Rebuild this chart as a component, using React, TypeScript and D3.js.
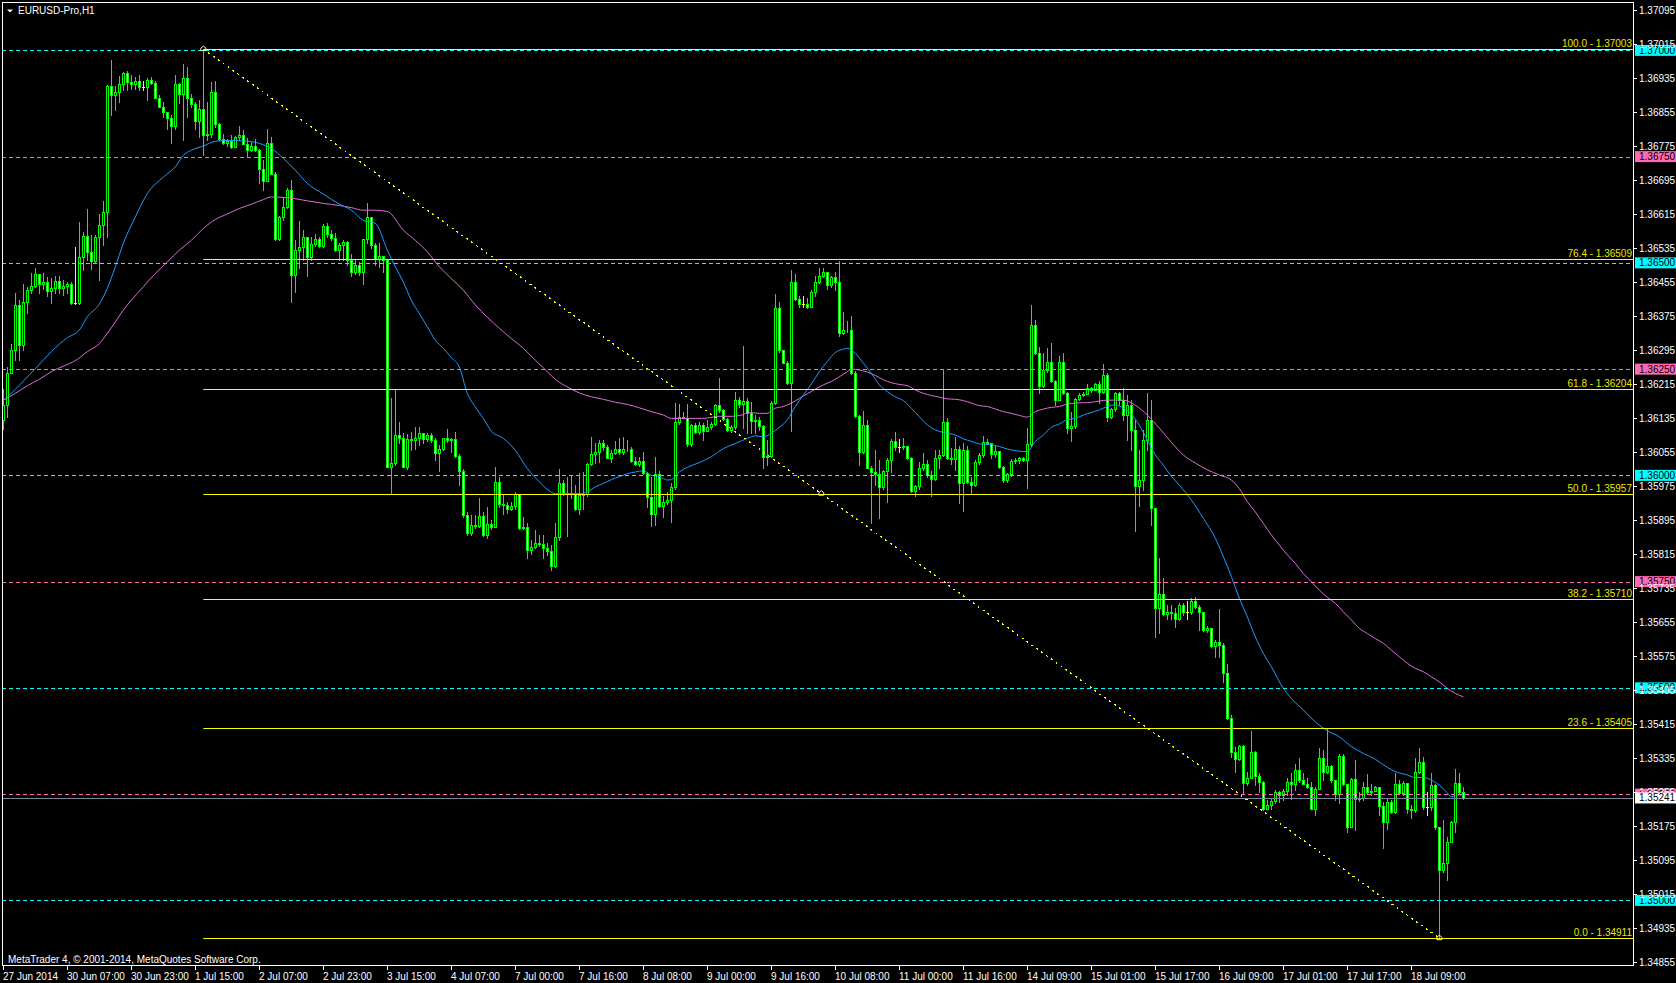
import React from "react";
import * as d3 from "d3";

const symbolTitle = "EURUSD-Pro,H1";
const copyright = "MetaTrader 4, © 2001-2014, MetaQuotes Software Corp.";

const firstOpen = 1.3613;
const closes = [
  1.36165,1.36240,1.36295,1.36402,1.36306,1.36408,1.36437,1.36446,1.36473,1.36451,
  1.36454,1.36434,1.36442,1.36457,1.36442,1.36446,1.36451,1.36406,1.36406,1.36513,
  1.36564,1.36526,1.36505,1.36561,1.36589,1.36620,1.36916,1.36896,1.36902,1.36920,
  1.36946,1.36926,1.36920,1.36929,1.36914,1.36914,1.36931,1.36924,1.36889,1.36867,
  1.36854,1.36842,1.36822,1.36920,1.36898,1.36936,1.36889,1.36873,1.36834,1.36861,
  1.36801,1.36803,1.36901,1.36826,1.36792,1.36781,1.36787,1.36773,1.36796,1.36800,
  1.36780,1.36766,1.36776,1.36765,1.36721,1.36693,1.36782,1.36710,1.36555,1.36607,
  1.36632,1.36671,1.36471,1.36530,1.36538,1.36560,1.36514,1.36544,1.36555,1.36539,
  1.36586,1.36567,1.36559,1.36530,1.36542,1.36548,1.36506,1.36479,1.36494,1.36479,
  1.36555,1.36607,1.36542,1.36510,1.36516,1.36506,1.36020,1.36028,1.36095,1.36089,
  1.36020,1.36085,1.36083,1.36089,1.36099,1.36085,1.36095,1.36083,1.36053,1.36063,
  1.36087,1.36083,1.36085,1.36046,1.36011,1.35906,1.35865,1.35883,1.35881,1.35904,
  1.35859,1.35885,1.35879,1.35985,1.35932,1.35930,1.35922,1.35928,1.35956,1.35877,
  1.35879,1.35824,1.35832,1.35840,1.35838,1.35830,1.35822,1.35786,1.35855,1.35981,
  1.35957,1.35959,1.35957,1.35922,1.35954,1.35956,1.36026,1.36051,1.36054,1.36077,
  1.36067,1.36042,1.36053,1.36063,1.36054,1.36062,1.36063,1.36033,1.36026,1.36034,
  1.36006,1.35948,1.35908,1.36003,1.35928,1.35938,1.35943,1.35973,1.36126,1.36138,
  1.36135,1.36073,1.36118,1.36102,1.36118,1.36104,1.36113,1.36122,1.36165,1.36154,
  1.36132,1.36106,1.36113,1.36177,1.36168,1.36175,1.36146,1.36127,1.36130,1.36115,
  1.36044,1.36046,1.36170,1.36393,1.36294,1.36265,1.36217,1.36454,1.36414,1.36403,
  1.36403,1.36396,1.36431,1.36456,1.36470,1.36478,1.36448,1.36466,1.36454,1.36334,
  1.36341,1.36342,1.36240,1.36140,1.36054,1.36118,1.36018,1.36007,1.36003,1.35972,
  1.36010,1.36036,1.36080,1.36066,1.36066,1.36069,1.36040,1.35964,1.35974,1.36017,
  1.36027,1.36001,1.35991,1.36040,1.36048,1.36125,1.36040,1.36039,1.36062,1.35981,
  1.36060,1.35985,1.35977,1.36032,1.36048,1.36079,1.36077,1.36050,1.36057,1.36019,
  1.35988,1.36003,1.36034,1.36036,1.36040,1.36036,1.36073,1.36354,1.36287,1.36211,
  1.36248,1.36267,1.36221,1.36178,1.36267,1.36193,1.36112,1.36115,1.36179,1.36189,
  1.36192,1.36205,1.36201,1.36215,1.36196,1.36236,1.36138,1.36156,1.36193,1.36177,
  1.36142,1.36165,1.36107,1.35975,1.35989,1.36083,1.36130,1.35923,1.35687,1.35722,
  1.35673,1.35678,1.35677,1.35663,1.35695,1.35678,1.35678,1.35705,1.35691,1.35678,
  1.35636,1.35640,1.35598,1.35609,1.35600,1.35534,1.35428,1.35350,1.35332,1.35364,
  1.35277,1.35289,1.35350,1.35292,1.35279,1.35216,1.35224,1.35234,1.35256,1.35248,
  1.35258,1.35278,1.35275,1.35307,1.35283,1.35275,1.35267,1.35216,1.35263,1.35334,
  1.35303,1.35316,1.35283,1.35250,1.35340,1.35274,1.35173,1.35285,1.35238,1.35240,
  1.35267,1.35254,1.35258,1.35266,1.35222,1.35184,1.35232,1.35207,1.35275,1.35252,
  1.35277,1.35216,1.35212,1.35303,1.35326,1.35220,1.35220,1.35271,1.35173,1.35071,
  1.35087,1.35138,1.35185,1.35277,1.35256,1.35241,
];
const highs = [
  1.36204,1.36255,1.36310,1.36430,1.36412,1.36451,1.36444,1.36475,1.36488,1.36466,
  1.36475,1.36466,1.36464,1.36470,1.36468,1.36460,1.36454,1.36454,1.36538,1.36595,
  1.36573,1.36626,1.36565,1.36565,1.36616,1.36645,1.36918,1.36977,1.36917,1.36939,
  1.36950,1.36952,1.36943,1.36937,1.36942,1.36928,1.36936,1.36938,1.36928,1.36895,
  1.36879,1.36855,1.36848,1.36942,1.36924,1.36969,1.36960,1.36897,1.36879,1.36883,
  1.37003,1.36879,1.36926,1.36928,1.36828,1.36804,1.36792,1.36802,1.36799,1.36822,
  1.36812,1.36794,1.36784,1.36792,1.36769,1.36742,1.36814,1.36797,1.36714,1.36610,
  1.36655,1.36676,1.36695,1.36553,1.36598,1.36577,1.36561,1.36561,1.36569,1.36561,
  1.36591,1.36593,1.36577,1.36571,1.36547,1.36553,1.36552,1.36522,1.36506,1.36502,
  1.36556,1.36642,1.36608,1.36546,1.36546,1.36514,1.36510,1.36181,1.36204,1.36126,
  1.36099,1.36097,1.36102,1.36114,1.36114,1.36095,1.36099,1.36099,1.36087,1.36071,
  1.36089,1.36110,1.36087,1.36102,1.36050,1.36014,1.35914,1.35906,1.35906,1.35946,
  1.35914,1.35926,1.35895,1.36019,1.35997,1.35957,1.35938,1.35938,1.35961,1.35957,
  1.35902,1.35887,1.35848,1.35871,1.35859,1.35859,1.35840,1.35836,1.35887,1.36016,
  1.35989,1.35997,1.36001,1.35977,1.36006,1.36008,1.36028,1.36091,1.36075,1.36084,
  1.36083,1.36071,1.36059,1.36081,1.36087,1.36091,1.36084,1.36066,1.36044,1.36044,
  1.36055,1.36008,1.35997,1.36044,1.36011,1.35951,1.35961,1.35981,1.36171,1.36169,
  1.36150,1.36169,1.36122,1.36124,1.36126,1.36124,1.36130,1.36126,1.36169,1.36228,
  1.36157,1.36136,1.36118,1.36197,1.36185,1.36305,1.36181,1.36172,1.36142,1.36138,
  1.36119,1.36083,1.36174,1.36427,1.36407,1.36295,1.36268,1.36483,1.36473,1.36421,
  1.36422,1.36417,1.36436,1.36468,1.36489,1.36487,1.36479,1.36469,1.36478,1.36505,
  1.36384,1.36363,1.36375,1.36246,1.36142,1.36152,1.36130,1.36021,1.36060,1.36036,
  1.36013,1.36040,1.36086,1.36101,1.36086,1.36087,1.36069,1.36044,1.35978,1.36032,
  1.36052,1.36036,1.36011,1.36060,1.36060,1.36248,1.36134,1.36064,1.36091,1.36068,
  1.36076,1.36068,1.35997,1.36036,1.36052,1.36093,1.36085,1.36064,1.36068,1.36047,
  1.36022,1.36005,1.36038,1.36040,1.36044,1.36043,1.36111,1.36401,1.36366,1.36302,
  1.36287,1.36299,1.36311,1.36225,1.36280,1.36287,1.36197,1.36150,1.36181,1.36193,
  1.36197,1.36215,1.36209,1.36217,1.36221,1.36262,1.36240,1.36158,1.36197,1.36196,
  1.36205,1.36189,1.36177,1.36130,1.36060,1.36107,1.36194,1.36177,1.35922,1.35805,
  1.35758,1.35695,1.35695,1.35689,1.35700,1.35699,1.35705,1.35711,1.35713,1.35695,
  1.35679,1.35646,1.35640,1.35613,1.35685,1.35606,1.35555,1.35436,1.35362,1.35365,
  1.35365,1.35303,1.35399,1.35352,1.35299,1.35281,1.35236,1.35238,1.35260,1.35257,
  1.35263,1.35289,1.35299,1.35321,1.35334,1.35299,1.35289,1.35279,1.35267,1.35359,
  1.35354,1.35405,1.35318,1.35283,1.35344,1.35344,1.35263,1.35287,1.35330,1.35256,
  1.35279,1.35297,1.35275,1.35270,1.35263,1.35232,1.35238,1.35236,1.35299,1.35283,
  1.35281,1.35256,1.35224,1.35334,1.35358,1.35338,1.35256,1.35299,1.35275,1.35173,
  1.35189,1.35148,1.35187,1.35308,1.35299,1.35267,
];
const lows = [
  1.36110,1.36138,1.36240,1.36271,1.36271,1.36295,1.36381,1.36428,1.36444,1.36430,
  1.36438,1.36422,1.36405,1.36430,1.36430,1.36424,1.36430,1.36404,1.36403,1.36404,
  1.36483,1.36506,1.36485,1.36500,1.36459,1.36543,1.36561,1.36848,1.36859,1.36879,
  1.36906,1.36906,1.36908,1.36908,1.36906,1.36906,1.36883,1.36920,1.36887,1.36866,
  1.36844,1.36816,1.36782,1.36814,1.36877,1.36790,1.36844,1.36867,1.36814,1.36797,
  1.36753,1.36789,1.36797,1.36820,1.36790,1.36779,1.36776,1.36771,1.36787,1.36789,
  1.36779,1.36750,1.36763,1.36763,1.36689,1.36671,1.36692,1.36709,1.36553,1.36553,
  1.36600,1.36630,1.36408,1.36432,1.36488,1.36506,1.36469,1.36506,1.36539,1.36538,
  1.36538,1.36561,1.36553,1.36528,1.36506,1.36506,1.36495,1.36469,1.36473,1.36471,
  1.36451,1.36546,1.36534,1.36495,1.36491,1.36479,1.36019,1.35957,1.36024,1.36075,
  1.36019,1.36016,1.36059,1.36063,1.36071,1.36075,1.36081,1.36079,1.36036,1.36011,
  1.36059,1.36079,1.36055,1.36044,1.35977,1.35902,1.35859,1.35859,1.35877,1.35879,
  1.35857,1.35852,1.35875,1.35879,1.35926,1.35910,1.35912,1.35918,1.35922,1.35875,
  1.35873,1.35805,1.35816,1.35828,1.35834,1.35805,1.35812,1.35777,1.35785,1.35849,
  1.35953,1.35857,1.35946,1.35918,1.35910,1.35922,1.35952,1.36024,1.36028,1.36032,
  1.36059,1.36040,1.36032,1.36051,1.36051,1.36051,1.36057,1.36032,1.36024,1.36022,
  1.36004,1.35926,1.35880,1.35883,1.35926,1.35902,1.35932,1.35891,1.35969,1.36122,
  1.36134,1.36069,1.36069,1.36100,1.36097,1.36083,1.36106,1.36108,1.36118,1.36150,
  1.36130,1.36104,1.36102,1.36110,1.36161,1.36111,1.36099,1.36099,1.36099,1.36107,
  1.36018,1.36025,1.36043,1.36168,1.36291,1.36264,1.36215,1.36105,1.36413,1.36397,
  1.36397,1.36393,1.36396,1.36421,1.36452,1.36466,1.36438,1.36444,1.36436,1.36328,
  1.36332,1.36338,1.36239,1.36138,1.36025,1.36052,1.36017,1.35889,1.35977,1.35899,
  1.35967,1.35938,1.36007,1.36060,1.36054,1.36061,1.36039,1.35960,1.35952,1.35967,
  1.36013,1.35997,1.35952,1.35989,1.36018,1.36046,1.36039,1.36027,1.36013,1.35934,
  1.35915,1.35983,1.35956,1.35975,1.36027,1.36044,1.36074,1.36040,1.36043,1.36017,
  1.35985,1.35985,1.35999,1.36030,1.36029,1.36034,1.35970,1.36069,1.36286,1.36193,
  1.36209,1.36244,1.36219,1.36166,1.36179,1.36192,1.36099,1.36082,1.36111,1.36178,
  1.36187,1.36193,1.36196,1.36201,1.36170,1.36193,1.36127,1.36134,1.36152,1.36165,
  1.36130,1.36083,1.36060,1.35869,1.35928,1.35966,1.36060,1.35883,1.35619,1.35628,
  1.35671,1.35661,1.35663,1.35644,1.35660,1.35671,1.35663,1.35675,1.35689,1.35636,
  1.35634,1.35632,1.35597,1.35573,1.35573,1.35514,1.35426,1.35338,1.35303,1.35330,
  1.35252,1.35271,1.35289,1.35271,1.35256,1.35212,1.35214,1.35216,1.35228,1.35232,
  1.35236,1.35248,1.35238,1.35260,1.35279,1.35274,1.35265,1.35214,1.35201,1.35261,
  1.35283,1.35300,1.35279,1.35236,1.35230,1.35271,1.35162,1.35173,1.35166,1.35234,
  1.35236,1.35252,1.35249,1.35260,1.35201,1.35124,1.35169,1.35205,1.35206,1.35250,
  1.35248,1.35205,1.35193,1.35209,1.35299,1.35216,1.35201,1.35213,1.35169,1.34911,
  1.35067,1.35049,1.35140,1.35162,1.35250,1.35238,
];

// moving averages: [bar index, price]
const fastMa: [number, number][] = [
  [0,1.36177],[2,1.36193],[4,1.36212],[8,1.36251],[12,1.36291],[16,1.36324],[19,1.36342],[21,1.36373],
  [24,1.36403],[26,1.36440],[28,1.36491],[30,1.36546],[33,1.36608],[36,1.36663],[40,1.36702],[43,1.36726],
  [45,1.36753],[47,1.36765],[50,1.36775],[53,1.36786],[56,1.36788],[60,1.36787],[64,1.36781],[67,1.36769],
  [70,1.36746],[73,1.36718],[76,1.36687],[80,1.36662],[84,1.36638],[87,1.36624],[90,1.36600],[93,1.36593],
  [96,1.36530],[98,1.36491],[100,1.36455],[102,1.36412],[104,1.36381],[106,1.36350],[108,1.36318],[110,1.36299],
  [112,1.36277],[114,1.36255],[116,1.36193],[118,1.36161],[120,1.36134],[122,1.36104],[125,1.36087],[128,1.36059],
  [131,1.36016],[134,1.35985],[136,1.35967],[138,1.35957],[141,1.35957],[144,1.35957],[146,1.35961],[148,1.35973],
  [150,1.35981],[152,1.35990],[154,1.35997],[156,1.36004],[158,1.36008],[160,1.36011],[162,1.36000],[164,1.35997],
  [166,1.35989],[167,1.35990],[169,1.36008],[171,1.36019],[174,1.36030],[177,1.36044],[180,1.36063],[183,1.36075],
  [186,1.36087],[188,1.36093],[190,1.36091],[192,1.36099],[194,1.36113],[196,1.36131],[198,1.36162],[200,1.36189],
  [202,1.36215],[204,1.36244],[206,1.36268],[208,1.36289],[210,1.36297],[211,1.36299],[213,1.36287],[215,1.36264],
  [217,1.36240],[219,1.36213],[221,1.36197],[223,1.36185],[225,1.36176],[227,1.36158],[229,1.36138],[231,1.36119],
  [233,1.36107],[235,1.36101],[238,1.36095],[240,1.36086],[242,1.36080],[244,1.36074],[247,1.36072],[249,1.36068],
  [251,1.36062],[253,1.36058],[255,1.36056],[256,1.36056],[258,1.36080],[260,1.36095],[262,1.36113],[264,1.36121],
  [266,1.36131],[268,1.36134],[270,1.36142],[272,1.36148],[274,1.36154],[276,1.36162],[278,1.36166],[280,1.36158],
  [282,1.36144],[284,1.36118],[286,1.36083],[288,1.36048],[290,1.36024],[292,1.35998],[294,1.35977],[297,1.35942],
  [300,1.35899],[303,1.35852],[305,1.35809],[307,1.35762],[309,1.35711],[311,1.35667],[313,1.35620],[315,1.35581],
  [317,1.35550],[320,1.35499],[322,1.35475],[325,1.35448],[328,1.35420],[331,1.35399],[334,1.35385],[337,1.35362],
  [340,1.35346],[343,1.35332],[346,1.35313],[348,1.35303],[351,1.35295],[353,1.35289],[355,1.35289],[357,1.35283],
  [359,1.35271],[361,1.35253],[362,1.35244],[364,1.35248],[365,1.35248],
];
const slowMa: [number, number][] = [
  [0,1.36177],[3,1.36193],[6,1.36211],[9,1.36226],[12,1.36244],[15,1.36257],[18,1.36270],[21,1.36291],
  [24,1.36310],[26,1.36334],[28,1.36361],[30,1.36389],[32,1.36412],[35,1.36444],[38,1.36475],[41,1.36502],
  [44,1.36530],[47,1.36553],[50,1.36581],[53,1.36602],[56,1.36615],[59,1.36628],[62,1.36638],[65,1.36649],
  [67,1.36655],[70,1.36654],[73,1.36651],[76,1.36646],[80,1.36640],[84,1.36635],[87,1.36630],[90,1.36624],
  [93,1.36624],[96,1.36621],[100,1.36577],[103,1.36553],[106,1.36526],[109,1.36491],[112,1.36463],[115,1.36436],
  [118,1.36401],[121,1.36372],[124,1.36346],[127,1.36322],[130,1.36299],[133,1.36271],[136,1.36244],[138,1.36226],
  [141,1.36208],[144,1.36194],[147,1.36185],[150,1.36179],[153,1.36172],[156,1.36167],[159,1.36159],[162,1.36150],
  [165,1.36142],[167,1.36134],[170,1.36134],[173,1.36134],[176,1.36135],[179,1.36139],[182,1.36139],[185,1.36143],
  [186,1.36148],[189,1.36146],[191,1.36146],[193,1.36158],[195,1.36162],[197,1.36170],[199,1.36181],[201,1.36192],
  [203,1.36203],[205,1.36213],[207,1.36221],[209,1.36232],[211,1.36244],[212,1.36250],[214,1.36248],[216,1.36243],
  [218,1.36235],[220,1.36225],[222,1.36218],[224,1.36214],[226,1.36211],[228,1.36201],[230,1.36193],[232,1.36188],
  [234,1.36184],[236,1.36180],[238,1.36179],[240,1.36176],[242,1.36170],[244,1.36164],[246,1.36162],[248,1.36156],
  [250,1.36150],[252,1.36146],[254,1.36141],[256,1.36137],[258,1.36150],[260,1.36156],[262,1.36160],[264,1.36162],
  [266,1.36168],[268,1.36170],[270,1.36171],[272,1.36172],[274,1.36175],[276,1.36177],[278,1.36177],[280,1.36177],
  [283,1.36165],[286,1.36142],[289,1.36111],[292,1.36078],[295,1.36048],[298,1.36029],[301,1.36013],[304,1.36001],
  [307,1.35989],[309,1.35969],[311,1.35938],[313,1.35914],[315,1.35887],[317,1.35860],[319,1.35836],[321,1.35813],
  [323,1.35793],[325,1.35769],[327,1.35750],[329,1.35730],[331,1.35713],[333,1.35699],[335,1.35679],[337,1.35660],
  [339,1.35640],[341,1.35628],[343,1.35616],[345,1.35605],[347,1.35589],[349,1.35573],[351,1.35558],[353,1.35546],
  [355,1.35538],[357,1.35526],[359,1.35514],[361,1.35499],[363,1.35487],[365,1.35479],
];

const fibLevels = [
  { label: "100.0", price: 1.37003 },
  { label: "76.4", price: 1.36509 },
  { label: "61.8", price: 1.36204 },
  { label: "50.0", price: 1.35957 },
  { label: "38.2", price: 1.3571 },
  { label: "23.6", price: 1.35405 },
  { label: "0.0", price: 1.34911 },
];
const fibStartBar = 50;
const fibEndBar = 359;
const cyanLevels = [1.37, 1.365, 1.36, 1.355, 1.35];
const pinkLevels = [1.3675, 1.3625, 1.3575, 1.3525];
const currentPrice = 1.35241;

const priceTicks = [
  "1.37095","1.37015","1.36935","1.36855","1.36775","1.36695","1.36615","1.36535","1.36455","1.36375",
  "1.36295","1.36215","1.36135","1.36055","1.35975","1.35895","1.35815","1.35735","1.35655","1.35575",
  "1.35495","1.35415","1.35335","1.35255","1.35175","1.35095","1.35015","1.34935","1.34855",
];
const timeLabels = [
  "27 Jun 2014","30 Jun 07:00","30 Jun 23:00","1 Jul 15:00","2 Jul 07:00","2 Jul 23:00","3 Jul 15:00",
  "4 Jul 07:00","7 Jul 00:00","7 Jul 16:00","8 Jul 08:00","9 Jul 00:00","9 Jul 16:00","10 Jul 08:00",
  "11 Jul 00:00","11 Jul 16:00","14 Jul 09:00","15 Jul 01:00","15 Jul 17:00","16 Jul 09:00","17 Jul 01:00",
  "17 Jul 17:00","18 Jul 09:00",
];

const W = 1676;
const H = 983;
const LEFT = 2;
const TOP = 2;
const RIGHT = 1633;
const BOTTOM = 965;
const FONT = "'Liberation Sans', Arial, sans-serif";
const LIME = "#00FF00";
const CYAN = "#00FFFF";
const PINK = "#FF6EB4";
const YELLOW = "#FFFF00";

export default function App() {
  const y = d3.scaleLinear().domain([1.37095, 1.34855]).range([10, 962]);
  const x = d3.scaleLinear().domain([0, 365]).range([3.33, 1463.33]);
  const col = (i: number) => Math.round(x(i));

  const candles = closes.map((c, i) => {
    const o = i === 0 ? firstOpen : closes[i - 1];
    const hi = Math.max(highs[i], o, c);
    const lo = Math.min(lows[i], o, c);
    const cx = col(i);
    const doji = Math.abs(o - c) < 0.000005;
    if (doji) {
      const yy = Math.round(y(c)) + 0.5;
      return (
        <g key={i}>
          <line x1={cx + 0.5} x2={cx + 0.5} y1={Math.round(y(hi))} y2={Math.round(y(lo)) + 1} stroke={YELLOW} />
          <line x1={cx - 1} x2={cx + 2} y1={yy} y2={yy} stroke={YELLOW} />
        </g>
      );
    }
    const top = Math.round(y(Math.max(o, c)));
    const bot = Math.round(y(Math.min(o, c)));
    return (
      <g key={i}>
        <line x1={cx + 0.5} x2={cx + 0.5} y1={Math.round(y(hi))} y2={Math.round(y(lo)) + 1} stroke={LIME} />
        <rect x={cx - 0.5} y={top + 0.5} width={2} height={Math.max(bot - top, 0)} fill={c < o ? "#FFFFFF" : "#000000"} stroke={LIME} />
      </g>
    );
  });

  const maLine = d3
    .line<[number, number]>()
    .x((d) => x(d[0]))
    .y((d) => y(d[1]))
    .curve(d3.curveMonotoneX);

  const fibX0 = x(fibStartBar);
  const fibHigh = fibLevels[0].price;
  const fibLow = fibLevels[fibLevels.length - 1].price;
  const midBar = (fibStartBar + fibEndBar) / 2;
  const midPrice = (fibHigh + fibLow) / 2;

  const marker = (cx: number, cy: number, key: string) => (
    <path key={key} d={`M${cx - 2.5},${cy + 1.5} L${cx - 2.5},${cy - 1} L${cx},${cy - 3} L${cx + 2.5},${cy - 1} L${cx + 2.5},${cy + 1.5} Z`} fill="none" stroke="#FFFFB0" strokeWidth={1} />
  );

  return (
    <svg
      width={W}
      height={H}
      style={{ position: "absolute", left: 0, top: 0, display: "block", background: "#000" }}
      fontFamily={FONT}
    >
      <rect x={0} y={0} width={W} height={H} fill="#000" />
      {/* candles */}
      <g>{candles}</g>
      {/* moving averages */}
      <path d={maLine(slowMa) || ""} fill="none" stroke="#DA70D6" strokeWidth={1} />
      <path d={maLine(fastMa) || ""} fill="none" stroke="#1E9BFF" strokeWidth={1} />

      {/* horizontal dashed levels */}
      {cyanLevels.map((p) => (
        <line key={"c" + p} x1={LEFT} x2={RIGHT} y1={Math.round(y(p)) + 0.5} y2={Math.round(y(p)) + 0.5} stroke={CYAN} strokeDasharray="4,3" />
      ))}
      {pinkLevels.map((p) => (
        <line key={"p" + p} x1={LEFT} x2={RIGHT} y1={Math.round(y(p)) + 0.5} y2={Math.round(y(p)) + 0.5} stroke={PINK} strokeDasharray="4,3" />
      ))}
      {/* current price line */}
      <line x1={LEFT} x2={RIGHT} y1={Math.round(y(currentPrice)) + 0.5} y2={Math.round(y(currentPrice)) + 0.5} stroke="#778899" />

      {/* fibonacci */}
      {fibLevels.map((f) => {
        const yy = Math.round(y(f.price)) + 0.5;
        return (
          <g key={f.label}>
            <line x1={fibX0} x2={RIGHT} y1={yy} y2={yy} stroke={YELLOW} />
            <text x={RIGHT - 1} y={yy - 3} fill="#E8E800" fontSize={10} textAnchor="end">
              {`${f.label} - ${f.price.toFixed(5)}`}
            </text>
          </g>
        );
      })}
      <line
        x1={fibX0}
        y1={y(fibHigh)}
        x2={x(fibEndBar)}
        y2={y(fibLow)}
        stroke={YELLOW}
        strokeWidth={1.3}
        strokeDasharray="2,4"
        shapeRendering="crispEdges"
      />
      {marker(fibX0, y(fibHigh), "m1")}
      {marker(x(fibEndBar), y(fibLow), "m2")}
      {marker(x(midBar), y(midPrice), "m3")}

      {/* frame */}
      <rect x={LEFT + 0.5} y={TOP + 0.5} width={RIGHT - LEFT} height={BOTTOM - TOP} fill="none" stroke="#FFFFFF" />
      <rect x={RIGHT + 1} y={0} width={W - RIGHT - 1} height={H} fill="#000" />
      <rect x={0} y={BOTTOM + 1} width={W} height={H - BOTTOM - 1} fill="#000" />
      <line x1={RIGHT + 0.5} x2={RIGHT + 0.5} y1={TOP} y2={BOTTOM + 1} stroke="#FFF" />
      <line x1={LEFT} x2={RIGHT + 1} y1={BOTTOM + 0.5} y2={BOTTOM + 0.5} stroke="#FFF" />

      {/* level boxes on axis */}
      {cyanLevels.map((p) => (
        <g key={"cb" + p}>
          <rect x={RIGHT + 2} y={y(p) - 5.5} width={W - RIGHT - 2} height={11} fill={CYAN} />
          <text x={RIGHT + 6} y={y(p) + 3.5} fontSize={10} fill="#000">{p.toFixed(5)}</text>
        </g>
      ))}
      {pinkLevels.map((p) => (
        <g key={"pb" + p}>
          <rect x={RIGHT + 2} y={y(p) - 5.5} width={W - RIGHT - 2} height={11} fill="#FF69B4" />
          <text x={RIGHT + 6} y={y(p) + 3.5} fontSize={10} fill="#000">{p.toFixed(5)}</text>
        </g>
      ))}

      {/* price axis */}
      {priceTicks.map((t) => {
        const yy = Math.round(y(+t)) + 0.5;
        return (
          <g key={t}>
            <line x1={RIGHT + 1} x2={RIGHT + 4} y1={yy} y2={yy} stroke="#FFF" />
            <text x={RIGHT + 6} y={yy + 3.5} fontSize={10} fill="#FFF">{t}</text>
          </g>
        );
      })}
      <rect x={RIGHT + 2} y={y(currentPrice) - 5.5} width={W - RIGHT - 2} height={11} fill="#FFF" />
      <text x={RIGHT + 6} y={y(currentPrice) + 3.5} fontSize={10} fill="#000">{currentPrice.toFixed(5)}</text>

      {/* time axis */}
      {timeLabels.map((t, k) => {
        const xx = col(k * 16) + 0.5;
        return (
          <g key={t}>
            <line x1={xx} x2={xx} y1={BOTTOM + 1} y2={BOTTOM + 5} stroke="#FFF" />
            <text x={xx - 0.5} y={980} fontSize={10} fill="#FFF">{t}</text>
          </g>
        );
      })}

      {/* title */}
      <path d="M7,9.5 L13,9.5 L10,12.5 Z" fill="#FFF" />
      <text x={18} y={14} fontSize={10} fill="#FFF">{symbolTitle}</text>
      <text x={8} y={963} fontSize={10} fill="#FFF">{copyright}</text>
    </svg>
  );
}
